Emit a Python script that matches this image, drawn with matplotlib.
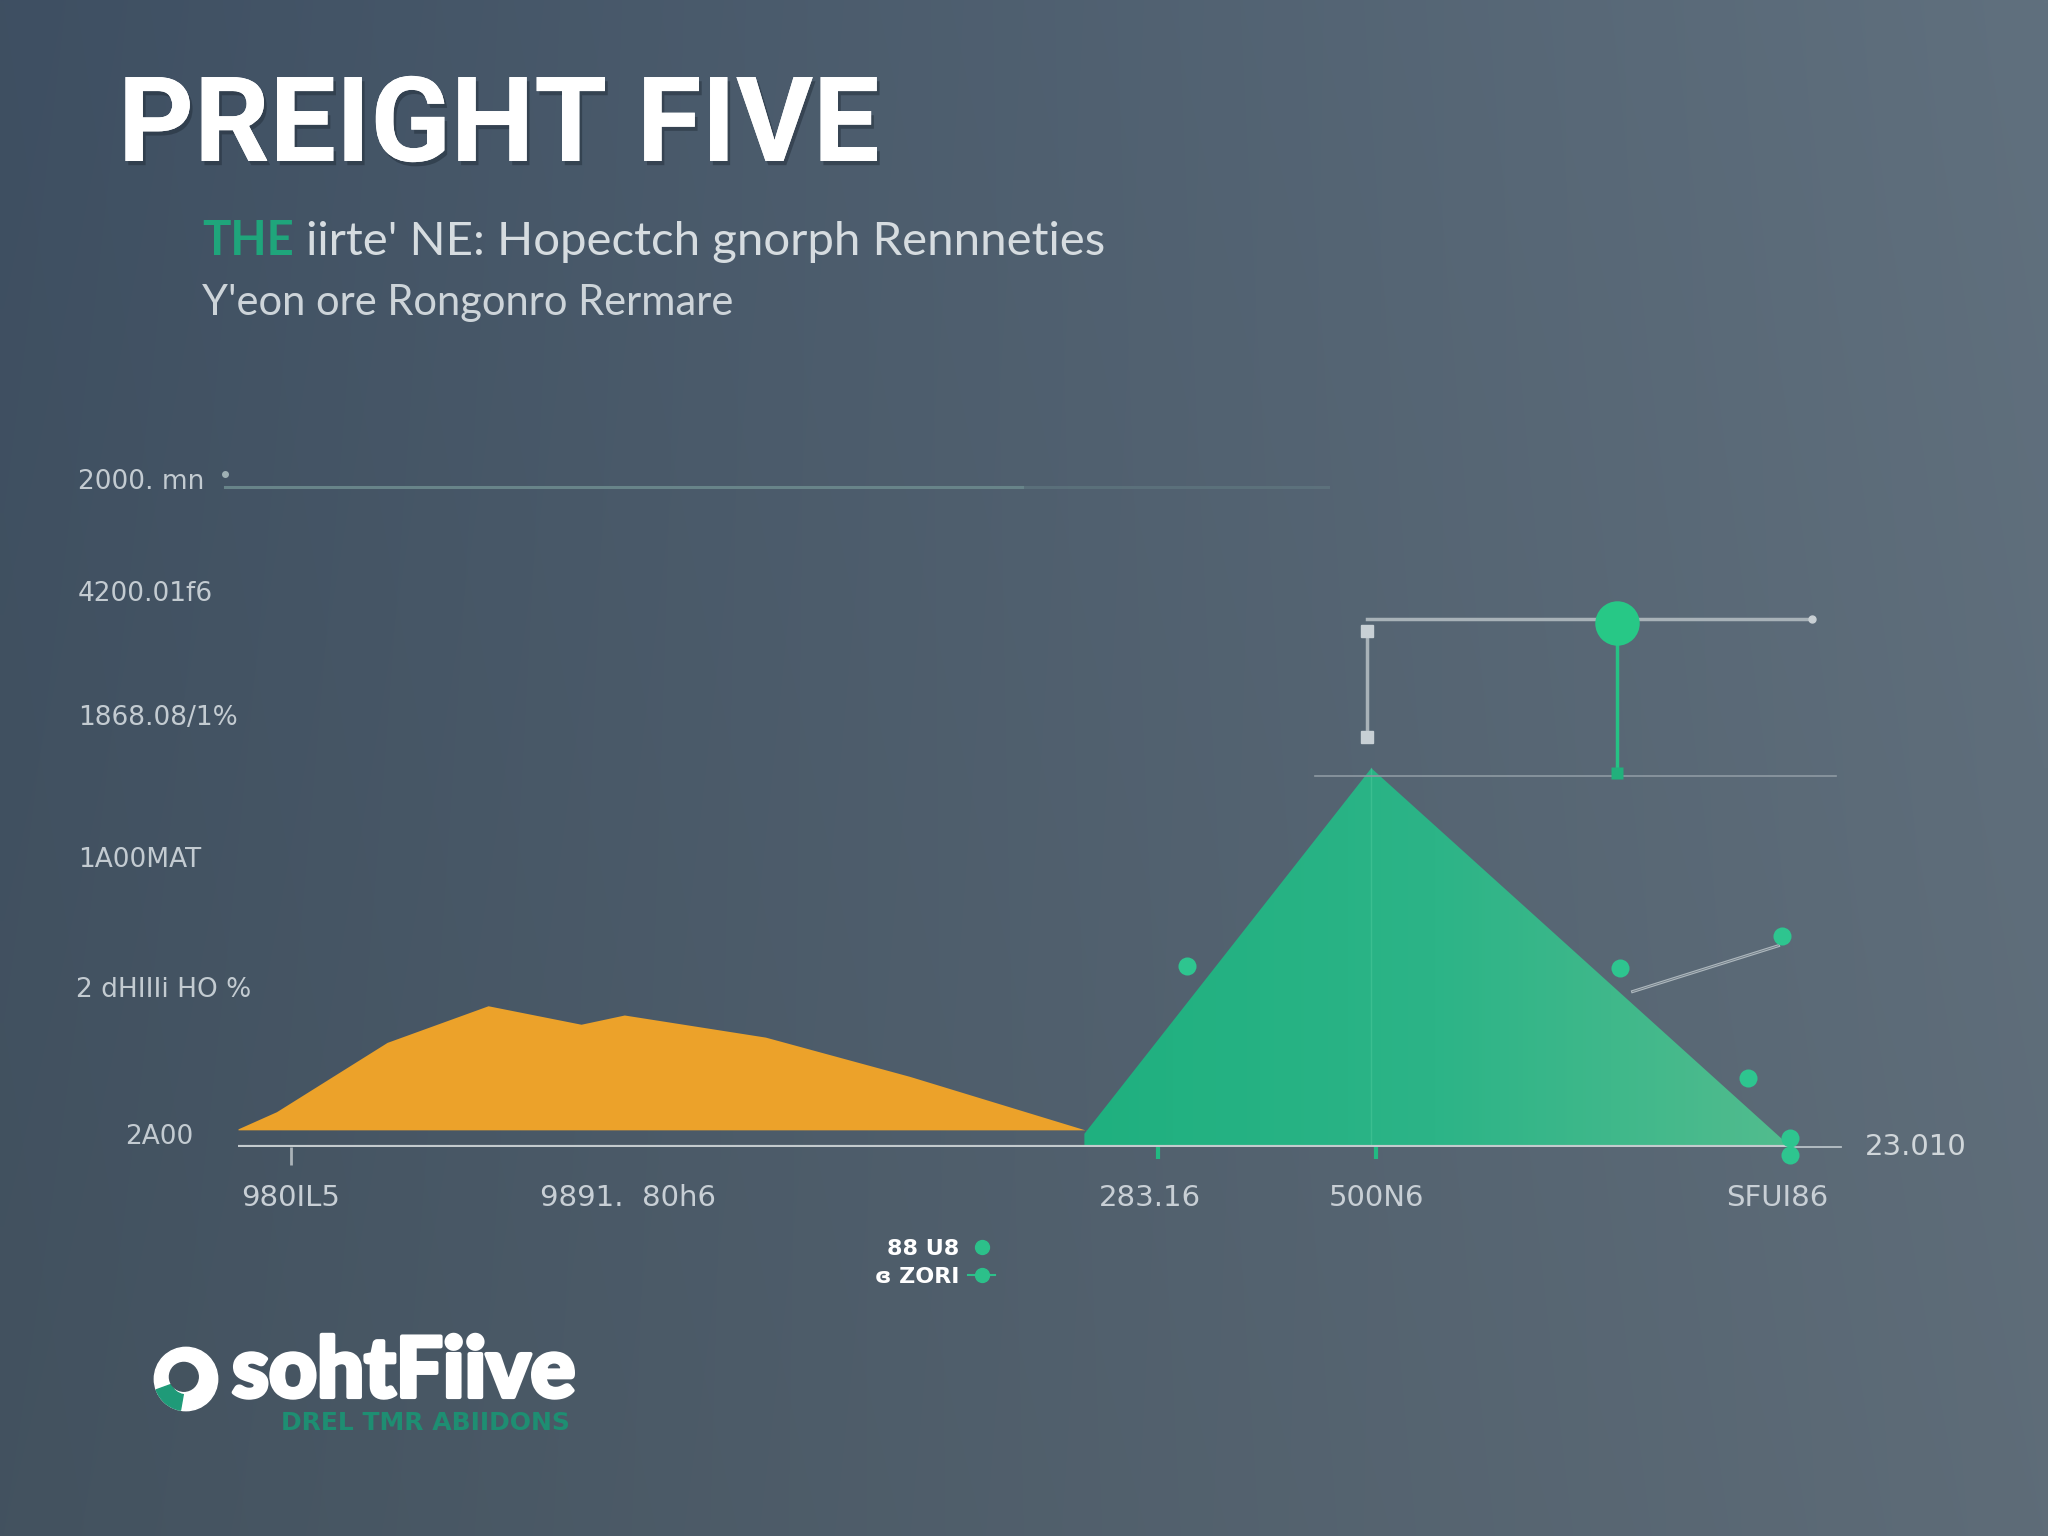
import numpy as np
import matplotlib
matplotlib.use("Agg")
import matplotlib.pyplot as plt
from matplotlib import transforms
from matplotlib import patheffects as pe
from matplotlib.patches import Polygon, Circle, Wedge
from matplotlib.lines import Line2D
from matplotlib.colors import LinearSegmentedColormap, to_rgb

# ---------------- data ----------------
TITLE = "PREIGHT FIVE"
SUB_HIGHLIGHT = "THE"
SUB_LINE1 = " iirte' NE: Hopectch gnorph Rennneties"
SUB_LINE2 = "Y'eon ore Rongonro Rermare"

Y_TICKS = [2015, 1675, 1300, 870, 475, 30]
Y_LABELS = ["2000. mn", "4200.01f6", "1868.08/1%", "1A00MAT", "2 dHIIIi HO %", "2A00"]
Y_LABEL_X = [78, 78, 78, 78, 76, 125]
X_TICKS = [3.3, 24.3, 56.9, 71.0, 96.0]
X_LABELS = ["980IL5", "9891.  80h6", "283.16", "500N6", "SFUI86"]
RIGHT_LABEL = "23.010"

orange_x = [0.0, 2.4, 9.3, 15.6, 21.4, 24.1, 32.9, 41.9, 52.9]
orange_y = [55, 107, 317, 428, 372, 400, 333, 214, 51]
ORANGE_BASE = 52

green_x = [52.8, 70.7, 96.6]
green_y = [40, 1148, 12]

dots_x = [59.2, 86.2, 96.3, 94.2, 96.8, 96.8]
dots_y = [550, 543, 638, 210, 28, -24]

connector_x = [87.0, 96.1]
connector_y = [471, 610]

top_line_x = [-0.8, 48.9]
top_line_fade_x = [48.9, 68.0]
TOP_LINE_Y = 2000

bracket_x = [70.4, 98.2]
BRACKET_Y = 1600
bracket_sq_y = [1564, 1243]
PIN_X = 86.0
pin_y = [1588, 1152]
PIN_BASE_Y = 1133
ref_line_x = [67.2, 99.7]
REF_LINE_Y = 1125

axis_thick_x = [0.0, 96.8]
axis_thin_x = [96.8, 100.0]
gray_tick_x = [3.3]
green_tick_x = [57.4, 71.0]

LEGEND_LABELS = ["88 U8", "\u025e ZORI"]
LOGO_TEXT = "sohtFiive"
LOGO_SUB = "DREL TMR ABIIDONS"

# ---------------- colours ----------------
ORANGE = "#eca22a"
GREEN = "#22b982"
TEXT_LIGHT = "#c3cbd1"

W, H = 2048, 1536
fig = plt.figure(figsize=(W / 100, H / 100), dpi=100)

# background gradient
bg = fig.add_axes([0, 0, 1, 1], zorder=-10)
tl, tr, bl, br = [np.array(to_rgb(c)) for c in ("#3e4f62", "#60707e", "#43525f", "#5e6c78")]
u = np.linspace(0, 1, 256)[None, :, None]
v = np.linspace(0, 1, 256)[:, None, None]
img = (1 - v) * ((1 - u) * tl + u * tr) + v * ((1 - u) * bl + u * br)
bg.imshow(img, extent=[0, 1, 0, 1], aspect="auto", interpolation="bilinear")
bg.set_axis_off()

# main axes
left, right = 238 / W, 1841 / W
bottom, top = 1 - 1147 / H, 1 - 487 / H
ax = fig.add_axes([left, bottom, right - left, top - bottom])
ax.patch.set_alpha(0)
for s in ax.spines.values():
    s.set_visible(False)

# top reference line
ax.plot(top_line_x, [TOP_LINE_Y] * 2, color="#688489", lw=2.2, clip_on=False, zorder=2)
ax.plot(top_line_fade_x, [TOP_LINE_Y] * 2, color="#688489", lw=2.2, alpha=0.45,
        clip_on=False, zorder=2)
ax.plot([top_line_x[0]], [TOP_LINE_Y + 40], marker="o", ms=4, color="#9fb0b4",
        clip_on=False, zorder=2)

# orange area
ax.fill_between(orange_x, orange_y, ORANGE_BASE, color=ORANGE, lw=0, zorder=3)

# green area with horizontal gradient
gx = [green_x[0]] + green_x + [green_x[-1]]
gy = [0] + green_y + [0]
gcmap = LinearSegmentedColormap.from_list("g", ["#1fb07f", "#2cb487", "#52bc8e"])
grad = np.linspace(0, 1, 256)[None, :]
im = ax.imshow(grad, extent=[min(green_x), max(green_x), 0, max(green_y)],
               aspect="auto", cmap=gcmap, zorder=3)
poly = Polygon(list(zip(gx, gy)), closed=True, facecolor="none", edgecolor="none")
ax.add_patch(poly)
im.set_clip_path(poly)
ax.plot([green_x[1], green_x[1]], [0, green_y[1]], color="#5fd3a5", lw=1.0, alpha=0.35, zorder=4)

# axis line
ax.plot(axis_thick_x, [0, 0], color="#c4cbce", lw=3.0, zorder=5, solid_capstyle="butt")
ax.plot(axis_thin_x, [0, 0], color="#b9c2c7", lw=1.3, zorder=5, clip_on=False)
ax.vlines(gray_tick_x, -55, 0, color="#aab3b8", lw=2, zorder=5, clip_on=False)
ax.vlines(green_tick_x, -35, 0, color=GREEN, lw=3, zorder=5, clip_on=False)

# dots and connector
ax.plot(connector_x, connector_y, color="#aeb8be", lw=2.2, zorder=6, clip_on=False)
ax.plot(connector_x, connector_y, color="#6f7c86", lw=0.6, zorder=6, clip_on=False)
ax.plot(dots_x, dots_y, ls="none", marker="o", ms=13, color="#2ec58f", mec="none",
        zorder=7, clip_on=False)

# bracket annotation
ax.plot(bracket_x, [BRACKET_Y] * 2, color="#a8b2b8", lw=2.5, zorder=6)
ax.plot([bracket_x[-1]], [BRACKET_Y], marker="o", ms=5, color="#c9d0d4", zorder=6)
ax.plot([bracket_x[0]] * 2, bracket_sq_y, color="#a8b2b8", lw=2.5, zorder=6)
ax.plot([bracket_x[0]] * 2, bracket_sq_y, ls="none", marker="s", ms=9,
        color="#c8d0d5", zorder=7)
ax.plot(ref_line_x, [REF_LINE_Y] * 2, color="#8e9aa3", lw=1.2, zorder=5)
ax.plot([PIN_X] * 2, pin_y, color="#25c285", lw=2.5, zorder=7)
ax.plot([PIN_X], [pin_y[0]], marker="o", ms=32, color="#27c886", mec="none", zorder=8)
ax.plot([PIN_X], [PIN_BASE_Y], marker="s", ms=9, color="#22b07c", mec="none", zorder=8)

ax.set_xlim(0, 100)
ax.set_ylim(0, 2000)

# x tick labels
ax.set_yticks([])
ax.set_xticks(X_TICKS)
ax.set_xticklabels(X_LABELS, fontsize=21, color="#c8cfd5")
ax.tick_params(axis="x", length=0, pad=27)

# y labels (left aligned at figure x)
ytrans = transforms.blended_transform_factory(fig.transFigure, ax.transData)
for xv, yv, lab in zip(Y_LABEL_X, Y_TICKS, Y_LABELS):
    ax.text(xv / W, yv, lab, transform=ytrans, ha="left", va="center",
            fontsize=19, color=TEXT_LIGHT, clip_on=False)

ax.text(1865 / W, 0, RIGHT_LABEL, transform=ytrans, ha="left", va="center",
        fontsize=21, color="#d0d6da", clip_on=False)

# title
fig.text(118 / W, 1 - 161 / H, TITLE, ha="left", va="baseline", fontsize=85,
         fontweight="bold", family="Roboto", color="white",
         path_effects=[pe.withSimplePatchShadow(offset=(2, -3), shadow_rgbFace="#1f2a35",
                                                alpha=0.45), pe.Normal()])

# subtitle
renderer = fig.canvas.get_renderer()
t1 = fig.text(202 / W, 1 - 255 / H, SUB_HIGHLIGHT, ha="left", va="baseline",
              fontsize=34, fontweight="bold", family="Lato", color="#1fa57b")
bb = t1.get_window_extent(renderer)
fig.text(bb.x1 / W, 1 - 255 / H, SUB_LINE1, ha="left", va="baseline",
         fontsize=34, family="Lato", color="#d6dce0")
fig.text(202 / W, 1 - 315 / H, SUB_LINE2, ha="left", va="baseline",
         fontsize=30, family="Lato", color="#cdd4d9")

# legend
handles = [Line2D([], [], ls="none", marker="o", ms=10, color="#2cc08a"),
           Line2D([], [], ls="-", lw=1.5, marker="o", ms=10, color="#2cc08a")]
fig.legend(handles, LEGEND_LABELS, loc="center", bbox_to_anchor=(935 / W, 1 - 1263 / H),
           markerfirst=False, frameon=False, handlelength=1.2, handletextpad=0.4,
           labelspacing=0.35, labelcolor="white",
           prop={"size": 16, "weight": "bold"})

# logo
iax = fig.add_axes([150 / W, 1 - 1415 / H, 72 / W, 72 / H])
iax.set_xlim(0, 1)
iax.set_ylim(0, 1)
iax.set_axis_off()
iax.add_patch(Circle((0.5, 0.5), 0.44, color="white"))
iax.add_patch(Wedge((0.5, 0.5), 0.44, 200, 260, width=0.22, color="#1f9a78"))
iax.add_patch(Circle((0.47, 0.53), 0.2, color="#44535f"))

fig.text(232 / W, 1 - 1397 / H, LOGO_TEXT, ha="left", va="baseline", fontsize=60,
         fontweight="black", family="Lato", color="white",
         path_effects=[pe.withStroke(linewidth=3, foreground="white")])
fig.text(281 / W, 1 - 1430 / H, LOGO_SUB, ha="left", va="baseline", fontsize=18,
         fontweight="bold", family="DejaVu Sans", color="#1e8e72")

fig.savefig("out.png", dpi=100)
